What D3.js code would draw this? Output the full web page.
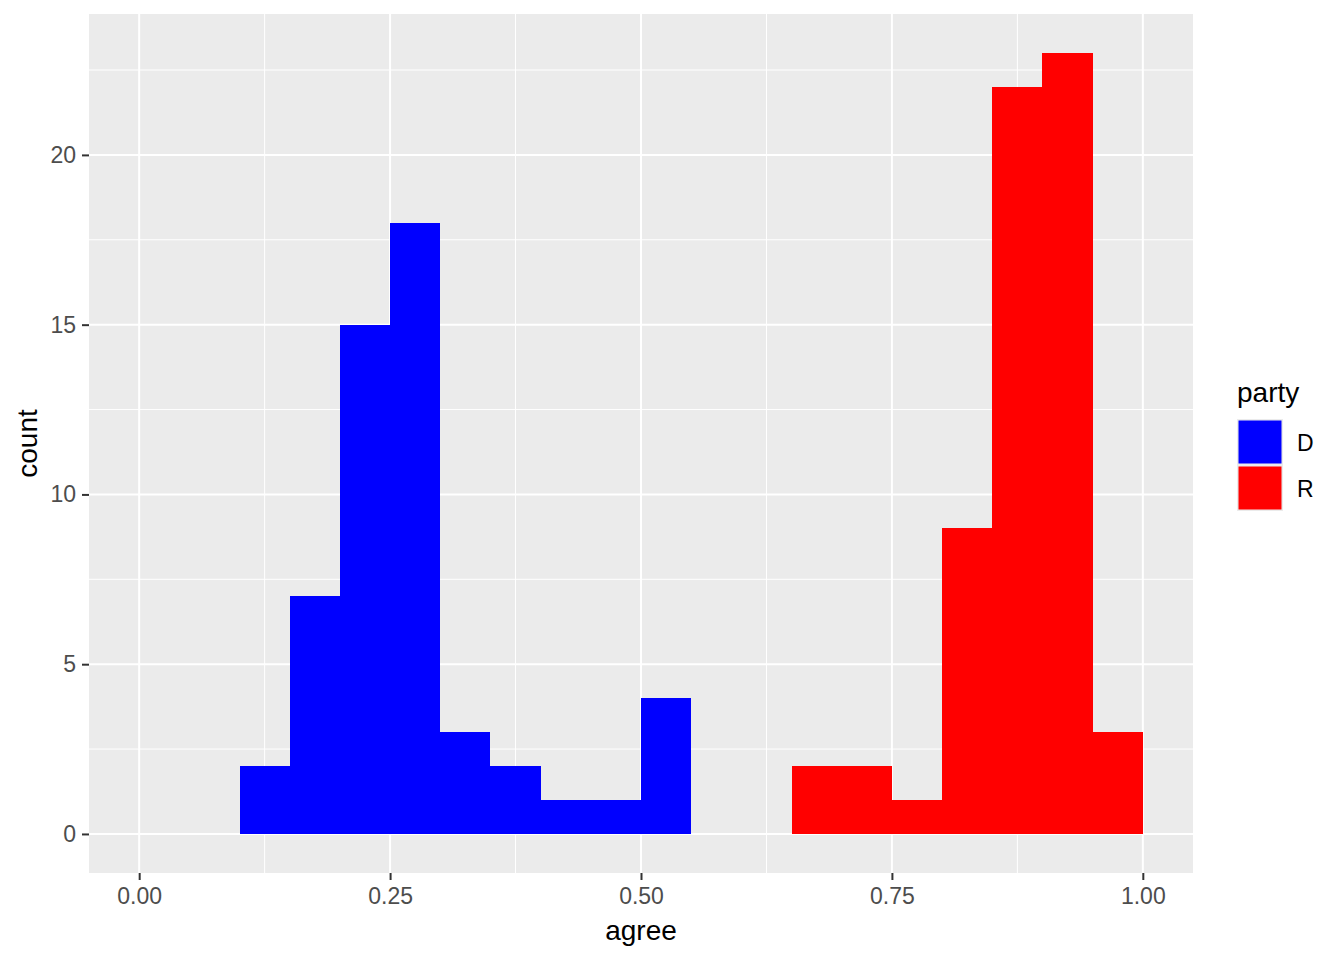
<!DOCTYPE html>
<html lang="en">
<head>
    <meta charset="utf-8">
    <script src="https://d3js.org/d3.v7.min.js"></script>
    <style>
        body { margin: 0; background: #fff; }
        text { font-family: "Liberation Sans", Arial, sans-serif; }
    </style>
</head>
<body>
<script>
    // histogram bins (left edges, width 0.05) and counts per party
    var binWidth = 0.05;
    var dBins = [0.10, 0.15, 0.20, 0.25, 0.30, 0.35, 0.40, 0.45, 0.50];
    var dCounts = [2, 7, 15, 18, 3, 2, 1, 1, 4];
    var rBins = [0.65, 0.70, 0.75, 0.80, 0.85, 0.90, 0.95];
    var rCounts = [2, 2, 1, 9, 22, 23, 3];

    var parties = ['D', 'R'];
    var partyColors = ['#0000FF', '#FF0000'];

    var xTicks = [0, 0.25, 0.5, 0.75, 1];
    var xMinor = [0.125, 0.375, 0.625, 0.875];
    var yTicks = [0, 5, 10, 15, 20];
    var yMinor = [2.5, 7.5, 12.5, 17.5, 22.5];

    var width = 1344, height = 960;
    var panel = {left: 89, right: 1193, top: 14, bottom: 873};

    var svg = d3.select('body').append('svg')
        .attr('width', width).attr('height', height);

    var x = d3.scaleLinear().domain([-0.05, 1.05]).range([panel.left, panel.right]);
    var y = d3.scaleLinear().domain([-1.15, 24.15]).range([panel.bottom, panel.top]);

    var color = d3.scaleOrdinal().domain(parties).range(partyColors);

    // panel background
    svg.append('rect')
        .attr('x', panel.left).attr('y', panel.top)
        .attr('width', panel.right - panel.left)
        .attr('height', panel.bottom - panel.top)
        .attr('fill', '#EBEBEB');

    // minor grid
    svg.selectAll('.xminor').data(xMinor).join('line')
        .attr('x1', d => x(d)).attr('x2', d => x(d))
        .attr('y1', panel.top).attr('y2', panel.bottom)
        .attr('stroke', '#fff').attr('stroke-width', 1);
    svg.selectAll('.yminor').data(yMinor).join('line')
        .attr('y1', d => y(d)).attr('y2', d => y(d))
        .attr('x1', panel.left).attr('x2', panel.right)
        .attr('stroke', '#fff').attr('stroke-width', 1);

    // major grid
    svg.selectAll('.xmajor').data(xTicks).join('line')
        .attr('x1', d => x(d)).attr('x2', d => x(d))
        .attr('y1', panel.top).attr('y2', panel.bottom)
        .attr('stroke', '#fff').attr('stroke-width', 2);
    svg.selectAll('.ymajor').data(yTicks).join('line')
        .attr('y1', d => y(d)).attr('y2', d => y(d))
        .attr('x1', panel.left).attr('x2', panel.right)
        .attr('stroke', '#fff').attr('stroke-width', 2);

    // bars
    function drawBars(bins, counts, party) {
        var data = bins.map((b, i) => ({x0: b, x1: b + binWidth, n: counts[i]}));
        svg.append('g').selectAll('rect').data(data).join('rect')
            .attr('x', d => Math.round(x(d.x0)))
            .attr('width', d => Math.round(x(d.x1)) - Math.round(x(d.x0)))
            .attr('y', d => Math.round(y(d.n)))
            .attr('height', d => Math.round(y(0)) - Math.round(y(d.n)))
            .attr('shape-rendering', 'crispEdges')
            .attr('fill', color(party));
    }
    drawBars(dBins, dCounts, 'D');
    drawBars(rBins, rCounts, 'R');

    // axes
    var xAxis = svg.append('g')
        .attr('transform', 'translate(0,' + panel.bottom + ')')
        .call(d3.axisBottom(x).tickValues(xTicks).tickFormat(d3.format('.2f')).tickSize(7).tickPadding(8));
    var yAxis = svg.append('g')
        .attr('transform', 'translate(' + panel.left + ',0)')
        .call(d3.axisLeft(y).tickValues(yTicks).tickSize(7).tickPadding(6));

    [xAxis, yAxis].forEach(function(a) {
        a.select('.domain').remove();
        a.selectAll('line').attr('stroke', '#333333').attr('stroke-width', 2);
        a.selectAll('text').attr('fill', '#4D4D4D').attr('font-size', '23px')
            .attr('font-family', '"Liberation Sans", Arial, sans-serif');
    });

    // axis titles
    svg.append('text')
        .attr('x', (panel.left + panel.right) / 2).attr('y', 940)
        .attr('text-anchor', 'middle').attr('font-size', '28px')
        .text('agree');
    svg.append('text')
        .attr('transform', 'translate(37,' + (panel.top + panel.bottom) / 2 + ') rotate(-90)')
        .attr('text-anchor', 'middle').attr('font-size', '28px')
        .text('count');

    // legend
    var legend = svg.append('g').attr('transform', 'translate(1237,0)');
    legend.append('text')
        .attr('x', 0).attr('y', 402)
        .attr('font-size', '28px')
        .text('party');
    var keys = legend.selectAll('.key').data(parties).join('g')
        .attr('transform', (d, i) => 'translate(0,' + (419 + i * 46) + ')');
    keys.append('rect')
        .attr('width', 46).attr('height', 46)
        .attr('fill', '#EBEBEB');
    keys.append('rect')
        .attr('x', 1.5).attr('y', 1.5)
        .attr('width', 43).attr('height', 43)
        .attr('fill', d => color(d));
    keys.append('text')
        .attr('x', 60).attr('y', 32)
        .attr('font-size', '23px')
        .text(d => d);
</script>
</body>
</html>
